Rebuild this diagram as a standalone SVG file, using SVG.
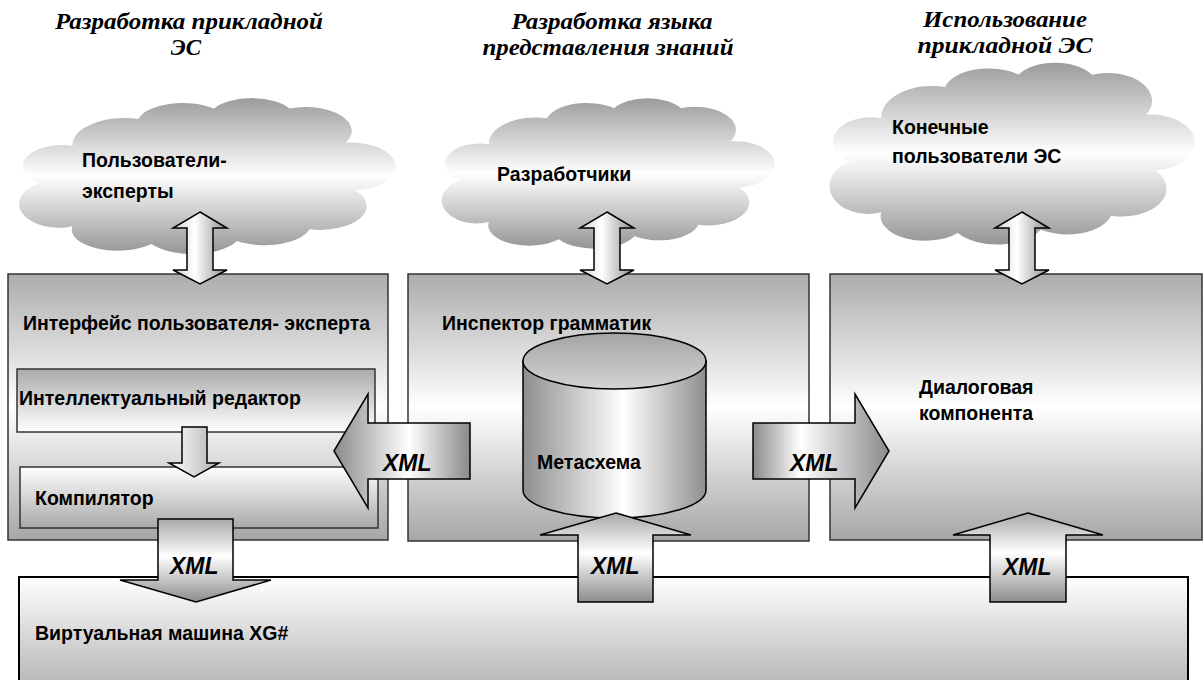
<svg xmlns="http://www.w3.org/2000/svg" width="1203" height="680" viewBox="0 0 1203 680">
<defs>
<linearGradient id="gBox" x1="0" y1="0" x2="0" y2="1"><stop offset="0" stop-color="#acacac"/><stop offset="0.5" stop-color="#ffffff"/><stop offset="1" stop-color="#a6a6a6"/></linearGradient>
<linearGradient id="gDownLight" x1="0" y1="0" x2="0" y2="1"><stop offset="0" stop-color="#ababab"/><stop offset="1" stop-color="#ffffff"/></linearGradient>
<linearGradient id="gUpLight" x1="0" y1="0" x2="0" y2="1"><stop offset="0" stop-color="#ffffff"/><stop offset="1" stop-color="#a8a8a8"/></linearGradient>
<linearGradient id="gCloud" x1="0" y1="0" x2="0" y2="1"><stop offset="0" stop-color="#9c9c9c"/><stop offset="0.5" stop-color="#ffffff"/><stop offset="1" stop-color="#959595"/></linearGradient>
<linearGradient id="gDbl" x1="0" y1="0" x2="1" y2="0"><stop offset="0" stop-color="#d0d0d0"/><stop offset="0.4" stop-color="#ffffff"/><stop offset="1" stop-color="#8e8e8e"/></linearGradient>
<linearGradient id="gHArrowL" x1="0" y1="0" x2="1" y2="0"><stop offset="0" stop-color="#8a8a8a"/><stop offset="0.55" stop-color="#ffffff"/><stop offset="1" stop-color="#8a8a8a"/></linearGradient>
<linearGradient id="gHArrowR" x1="0" y1="0" x2="1" y2="0"><stop offset="0" stop-color="#8a8a8a"/><stop offset="0.35" stop-color="#ffffff"/><stop offset="1" stop-color="#8a8a8a"/></linearGradient>
<linearGradient id="gVArrow" x1="0" y1="0" x2="0" y2="1"><stop offset="0" stop-color="#a8a8a8"/><stop offset="0.45" stop-color="#ffffff"/><stop offset="1" stop-color="#8c8c8c"/></linearGradient>
<linearGradient id="gCyl" x1="0" y1="0" x2="1" y2="0"><stop offset="0" stop-color="#8e8e8e"/><stop offset="0.55" stop-color="#ffffff"/><stop offset="1" stop-color="#8e8e8e"/></linearGradient>
<linearGradient id="gCylTop" x1="0" y1="0" x2="0" y2="1"><stop offset="0" stop-color="#a4a4a4"/><stop offset="1" stop-color="#d4d4d4"/></linearGradient>
<linearGradient id="gSmall" x1="0" y1="0" x2="1" y2="0"><stop offset="0" stop-color="#ffffff"/><stop offset="1" stop-color="#b0b0b0"/></linearGradient>
<path id="cloud" d="M2,55 A12,14 0 0 1 12,30 A16,18 0 0 1 32,12 A14,14 0 0 1 55,5 A13,13 0 0 1 78,5 A14,16 0 0 1 95,28 A12,14 0 0 1 98,60 A14,16 0 0 1 84,86 A14,14 0 0 1 62,94 A15,15 0 0 1 36,96 A14,14 0 0 1 12,84 A12,16 0 0 1 2,55 Z"/>
</defs>
<style>
.box{stroke:#333;stroke-width:1.5}
.arr{stroke:#000;stroke-width:1.5;stroke-linejoin:miter}
.cloud{fill:url(#gCloud);stroke:none}
.title{font-family:"Liberation Serif",serif;font-weight:bold;font-style:italic;font-size:23px;fill:#000;text-anchor:middle}
.lbl{font-family:"Liberation Sans",Arial,sans-serif;font-weight:bold;font-size:19.5px;fill:#000}
.xml{font-family:"Liberation Sans",Arial,sans-serif;font-weight:bold;font-style:italic;font-size:23px;fill:#000}
</style>

<g id="titles">
<text class="title" x="189" y="29" textLength="268" lengthAdjust="spacingAndGlyphs">Разработка прикладной</text>
<text class="title" x="186" y="55">ЭС</text>
<text class="title" x="612" y="29" textLength="201" lengthAdjust="spacingAndGlyphs">Разработка языка</text>
<text class="title" x="608" y="55" textLength="251" lengthAdjust="spacingAndGlyphs">представления знаний</text>
<text class="title" x="1005" y="27" textLength="164" lengthAdjust="spacingAndGlyphs">Использование</text>
<text class="title" x="1005" y="53" textLength="175" lengthAdjust="spacingAndGlyphs">прикладной ЭС</text>
</g>

<g id="vm">
<rect class="box" x="19" y="577" width="1169" height="130" fill="url(#gUpLight)" style="stroke:#000;stroke-width:2"/>
<text class="lbl" x="35" y="640">Виртуальная машина XG#</text>
</g>

<g id="expert-interface">
<rect class="box" x="8" y="274" width="380" height="266" fill="url(#gBox)"/>
<text class="lbl" x="23" y="330">Интерфейс пользователя- эксперта</text>
</g>
<g id="editor">
<rect class="box" x="17" y="369" width="358" height="63" fill="url(#gDownLight)"/>
<text class="lbl" x="19" y="405">Интеллектуальный редактор</text>
</g>
<g id="compiler">
<rect class="box" x="20" y="467" width="358" height="61" fill="url(#gUpLight)"/>
<text class="lbl" x="35" y="505">Компилятор</text>
</g>

<g id="grammar-inspector">
<rect class="box" x="408" y="274" width="401" height="267" fill="url(#gBox)"/>
<text class="lbl" x="442" y="330">Инспектор грамматик</text>
</g>
<g id="metaschema">
<path class="arr" d="M523,361 L523,490 A91.5,28 0 0 0 706,490 L706,361 Z" fill="url(#gCyl)"/>
<ellipse class="arr" cx="614.5" cy="361" rx="91.5" ry="28" fill="url(#gCylTop)"/>
<text class="lbl" x="537" y="469">Метасхема</text>
</g>

<g id="dialog">
<rect class="box" x="830" y="274" width="372" height="266" fill="url(#gBox)"/>
<text class="lbl" x="919" y="394">Диалоговая</text>
<text class="lbl" x="919" y="420">компонента</text>
</g>

<g id="cloud-experts">
<use href="#cloud" class="cloud" transform="translate(33,101) scale(3.29,1.49)"/>
<text class="lbl" x="82" y="167">Пользователи-</text>
<text class="lbl" x="82" y="198">эксперты</text>
</g>
<g id="cloud-developers">
<use href="#cloud" class="cloud" transform="translate(454,101) scale(2.91,1.44)"/>
<text class="lbl" x="497" y="181">Разработчики</text>
</g>
<g id="cloud-endusers">
<use href="#cloud" class="cloud" transform="translate(843,66) scale(3.19,1.74)"/>
<text class="lbl" x="892" y="134">Конечные</text>
<text class="lbl" x="892" y="163">пользователи ЭС</text>
</g>

<g id="connectors">
<polygon class="arr" fill="url(#gDbl)" points="200,212 227,228 213,228 213,270 227,270 200,284 173,270 187,270 187,228 173,228"/>
<polygon class="arr" fill="url(#gDbl)" points="607,212 634,228 620,228 620,270 634,270 607,284 580,270 594,270 594,228 580,228"/>
<polygon class="arr" fill="url(#gDbl)" points="1022,212 1049,228 1035,228 1035,270 1049,270 1022,284 995,270 1009,270 1009,228 995,228"/>
<polygon class="arr" fill="url(#gSmall)" points="182,427 207,427 207,463 219,463 194,477 169,463 182,463"/>
<polygon class="arr" fill="url(#gHArrowL)" points="334,451 368,394 368,423 470,423 470,479 368,479 368,508"/>
<text class="xml" x="383" y="471">XML</text>
<polygon class="arr" fill="url(#gHArrowR)" points="753,423 855,423 855,394 889,451 855,508 855,479 753,479"/>
<text class="xml" x="790" y="471">XML</text>
<polygon class="arr" fill="url(#gVArrow)" points="158,519 233,519 233,580 271,580 196,602 120,580 158,580"/>
<text class="xml" x="170" y="574">XML</text>
<polygon class="arr" fill="url(#gVArrow)" points="616,513 691,535 653,535 653,602 578,602 578,535 540,535"/>
<text class="xml" x="591" y="574">XML</text>
<polygon class="arr" fill="url(#gVArrow)" points="1028,513 1103,535 1066,535 1066,602 990,602 990,535 953,535"/>
<text class="xml" x="1003" y="575">XML</text>
</g>
</svg>
